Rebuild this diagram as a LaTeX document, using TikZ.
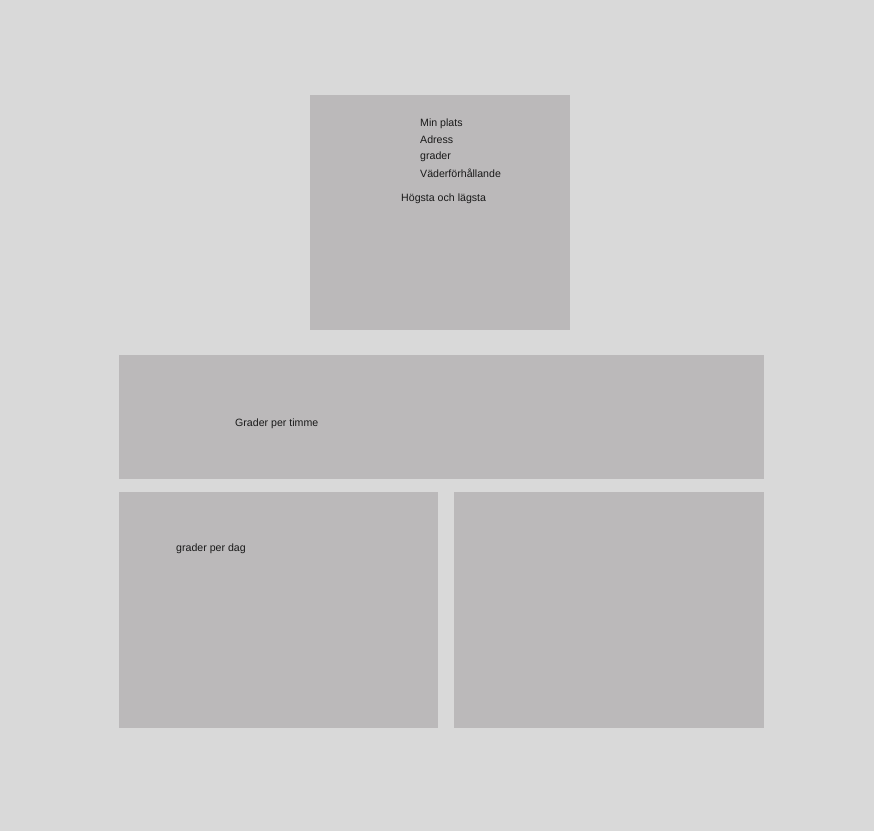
\documentclass[tikz,border=0pt]{standalone}
\usepackage{fontspec}
\setmainfont{Liberation Sans}
\definecolor{bg}{HTML}{D9D9D9}
\definecolor{panel}{HTML}{BBB9BA}
\begin{document}
\begin{tikzpicture}[x=1pt,y=-1pt,
  panelbox/.style={fill=panel,draw=none},
  lbl/.style={anchor=west,inner sep=0pt,font=\fontsize{10.6}{12}\selectfont,text=black!90}]
\fill[bg] (0,0) rectangle (874,831);
\useasboundingbox (0,0) rectangle (874,831);
\path[panelbox] (310,95) rectangle (570,330);
\path[panelbox] (119,355) rectangle (764,479);
\path[panelbox] (119,492) rectangle (438,728);
\path[panelbox] (454,492) rectangle (764,728);
\node[lbl] (t1) at (420,123.3) {Min plats};
\node[lbl] (t2) at (420,139.8) {Adress};
\node[lbl] (t3) at (420,156.3) {grader};
\node[lbl] (t4) at (420,172.8) {Väderförhållande};
\node[lbl] (t5) at (401,198.3) {Högsta och lägsta};
\node[lbl] (t6) at (235,423.8) {Grader per timme};
\node[lbl] (t7) at (176,548.8) {grader per dag};
\end{tikzpicture}
\end{document}
